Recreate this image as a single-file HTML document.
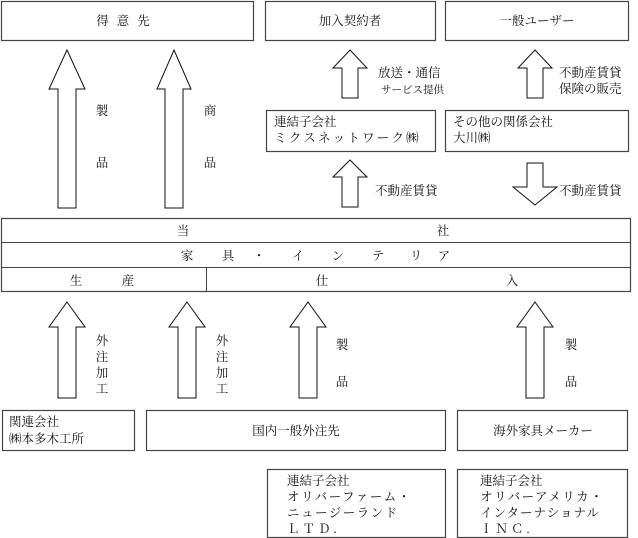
<!DOCTYPE html>
<html><head><meta charset="utf-8"><style>
body{margin:0;background:#fff}
svg{display:block}
text{font-family:"Liberation Serif","Noto Serif CJK SC","Noto Sans CJK JP",serif;font-size:12.5px;fill:#111}
.b{fill:#fff;stroke:#444;stroke-width:1.2}
.a{fill:#fff;stroke:#111;stroke-width:1}
</style></head><body>
<svg width="638" height="538" viewBox="0 0 638 538" xmlns="http://www.w3.org/2000/svg">
<rect class="b" x="1.5" y="1.5" width="252" height="39"/>
<rect class="b" x="265.5" y="1.5" width="170" height="39"/>
<rect class="b" x="445.5" y="1.5" width="183" height="39"/>
<text x="127" y="25" text-anchor="middle" letter-spacing="8">得意先</text>
<text x="350" y="25" text-anchor="middle">加入契約者</text>
<text x="537" y="25" text-anchor="middle">一般ユーザー</text>

<polygon class="a" points="67,50 85,89 76,89 76,208 58,208 58,89 49,89"/>
<polygon class="a" points="174,50 191,89 183,89 183,208 165,208 165,89 157,89"/>
<text x="102" y="115" text-anchor="middle">製</text>
<text x="102" y="167" text-anchor="middle">品</text>
<text x="210" y="115" text-anchor="middle">商</text>
<text x="210" y="167" text-anchor="middle">品</text>

<polygon class="a" points="350,50 367,68 358,68 358,98 342,98 342,68 333,68"/>
<text x="378" y="77">放送・通信</text>
<text x="381" y="93" style="font-size:10.5px">サービス提供</text>
<polygon class="a" points="535,50 552,68 543,68 543,98 527,98 527,68 518,68"/>
<text x="559" y="77">不動産賃貸</text>
<text x="559" y="93">保険の販売</text>

<rect class="b" x="266.5" y="110.5" width="169" height="41"/>
<rect class="b" x="445.5" y="110.5" width="183" height="41"/>
<text x="274" y="126">連結子会社</text>
<text x="274" y="142" letter-spacing="2.2">ミクスネットワーク㈱</text>
<text x="453" y="126">その他の関係会社</text>
<text x="453" y="142">大川㈱</text>

<polygon class="a" points="350,160 367,177 358,177 358,207 342,207 342,177 333,177"/>
<text x="375" y="195">不動産賃貸</text>
<polygon class="a" points="527,163 543,163 543,187 557,187 535,205 513,187 527,187"/>
<text x="559" y="195">不動産賃貸</text>

<rect class="b" x="1.5" y="218.5" width="629" height="73"/>
<line x1="1" y1="242.5" x2="631" y2="242.5" stroke="#444"/>
<line x1="1" y1="267.5" x2="631" y2="267.5" stroke="#444"/>
<line x1="206.5" y1="267" x2="206.5" y2="292" stroke="#444"/>
<text x="183" y="235" text-anchor="middle">当</text>
<text x="443" y="235" text-anchor="middle">社</text>
<text x="187" y="260" text-anchor="middle">家</text>
<text x="228" y="260" text-anchor="middle">具</text>
<text x="259" y="260" text-anchor="middle">・</text>
<text x="298" y="260" text-anchor="middle">イ</text>
<text x="338" y="260" text-anchor="middle">ン</text>
<text x="378" y="260" text-anchor="middle">テ</text>
<text x="416" y="260" text-anchor="middle">リ</text>
<text x="444" y="260" text-anchor="middle">ア</text>
<text x="76" y="285" text-anchor="middle">生</text>
<text x="128" y="285" text-anchor="middle">産</text>
<text x="322" y="285" text-anchor="middle">仕</text>
<text x="512" y="285" text-anchor="middle">入</text>

<polygon class="a" points="67,302 85,327 76,327 76,398 58,398 58,327 49,327"/>
<polygon class="a" points="187,302 205,327 196,327 196,398 178,398 178,327 169,327"/>
<polygon class="a" points="308,302 326,327 317,327 317,398 299,398 299,327 290,327"/>
<polygon class="a" points="535,302 553,327 544,327 544,398 526,398 526,327 517,327"/>
<g text-anchor="middle">
<text x="102" y="345">外</text><text x="102" y="361">注</text><text x="102" y="377">加</text><text x="102" y="393">工</text>
<text x="222" y="345">外</text><text x="222" y="361">注</text><text x="222" y="377">加</text><text x="222" y="393">工</text>
<text x="342" y="349">製</text><text x="342" y="386">品</text>
<text x="571" y="349">製</text><text x="571" y="386">品</text>
</g>

<rect class="b" x="2.5" y="410.5" width="132" height="40"/>
<rect class="b" x="146.5" y="410.5" width="299" height="40"/>
<rect class="b" x="457.5" y="410.5" width="170" height="40"/>
<text x="9" y="426">関連会社</text>
<text x="9" y="443">㈱本多木工所</text>
<text x="296" y="435" text-anchor="middle">国内一般外注先</text>
<text x="543" y="435" text-anchor="middle">海外家具メーカー</text>

<rect class="b" x="267.5" y="469.5" width="178" height="68"/>
<rect class="b" x="457.5" y="469.5" width="170" height="68"/>
<text x="287" y="485">連結子会社</text>
<text x="287" y="501" letter-spacing="1.5">オリバーファーム・</text>
<text x="287" y="517" letter-spacing="1.5">ニュージーランド</text>
<text x="287" y="533" letter-spacing="3">ＬＴＤ.</text>
<text x="480" y="485">連結子会社</text>
<text x="480" y="501" letter-spacing="1.5">オリバーアメリカ・</text>
<text x="480" y="517" letter-spacing="1">インターナショナル</text>
<text x="480" y="533" letter-spacing="3">ＩＮＣ.</text>
</svg>
</body></html>
